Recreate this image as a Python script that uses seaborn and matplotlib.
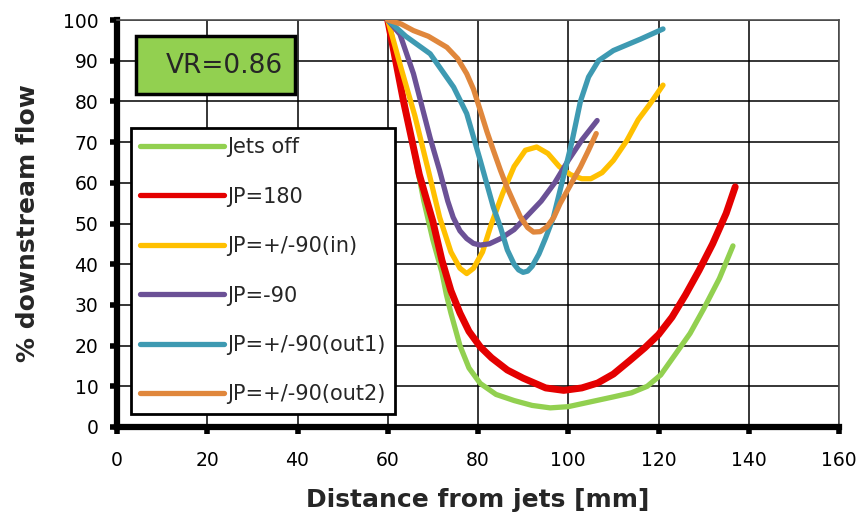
import matplotlib
matplotlib.use("Agg")
import matplotlib.pyplot as plt
import pandas as pd
import seaborn as sns
from matplotlib.patches import Rectangle

# ---- data -------------------------------------------------------------
series_names = ["Jets off", "JP=180", "JP=+/-90(in)", "JP=-90",
                "JP=+/-90(out1)", "JP=+/-90(out2)"]
series_colors = ["#92D050", "#E40000", "#FFC000", "#6B5196", "#3E9AB2", "#E0873C"]
series_widths = [3.8, 5.0, 3.8, 3.8, 3.8, 3.8]

jets_off_x = [60, 64, 68, 70, 72, 73, 74, 76, 78, 80.5, 84, 88, 92, 96, 100,
              105, 110, 114, 117.5, 120.5, 123.5, 127, 130, 133.5, 136.5]
jets_off_y = [100, 78, 55.5, 46, 38, 32.5, 28, 20, 14.5, 10.7, 8, 6.5, 5.3, 4.7, 5,
              6.2, 7.4, 8.4, 10, 12.8, 17.5, 23, 29, 36.5, 44.5]

jp180_x = [60, 63.5, 67, 70, 72, 74, 76, 78, 80.5, 83, 86.5, 90, 95, 99, 103,
           106.5, 110, 113.5, 117, 120, 123, 126, 129, 132, 135, 137]
jp180_y = [100, 80, 62, 50.5, 41, 33.5, 28, 23.5, 19.7, 17, 14, 12, 9.6, 9, 9.6,
           10.8, 13, 16.2, 19.5, 22.7, 27, 32.5, 38.5, 45, 52.5, 59]

jp90_in_x = [60, 63, 66, 69, 71.5, 74, 76, 77.5, 79, 81, 83, 85.5, 88, 90.5, 93,
             95.5, 98, 100.5, 103, 105, 107.5, 110, 113, 115.5, 118, 121]
jp90_in_y = [100, 88, 76.5, 63, 51.5, 43, 39, 37.7, 39, 43, 50, 57.5, 64, 68, 68.8,
             67.2, 64, 62, 61, 61, 62.5, 65.5, 70.4, 75.5, 79.2, 84]

jp_m90_x = [60, 62.7, 65.7, 69.4, 71.5, 73.3, 74.5, 76, 77.5, 79, 80.5, 82.5, 85,
            88, 91, 94, 97, 100, 103, 106.4]
jp_m90_y = [100, 96.5, 86.8, 71, 63, 55.5, 51.5, 48.2, 46.3, 45.1, 44.7, 45, 46.3,
            48.5, 52, 55.5, 60, 65.5, 70.5, 75.3]

jp90_out1_x = [60, 64, 69.4, 74.6, 77.5, 80.5, 83.4, 85, 86.5, 88, 89, 90, 91,
               92, 93.5, 95, 96.7, 98.6, 100.8, 102.7, 104.5, 106.7, 110, 116, 121]
jp90_out1_y = [100, 96, 91.7, 83.5, 77, 65.5, 54, 49, 43.5, 40, 38.6, 38, 38.3,
               39.5, 42.5, 46.5, 51.5, 60, 70, 80, 86, 90, 92.5, 95.3, 97.8]

jp90_out2_x = [60, 63, 65.7, 69, 73.1, 75.5, 77.5, 79, 80.5, 82, 83.4, 85, 86.4, 88,
               89.4, 91, 92.3, 93.8, 95.3, 96.8, 98.2, 100.5, 102.7, 104.5, 106.2]
jp90_out2_y = [100, 99, 97.4, 96, 93.3, 90.5, 86.8, 83, 77.8, 72.5, 68, 63, 59, 55,
               51.6, 49, 47.9, 48, 49.2, 51.5, 54.9, 59.5, 63.9, 68, 72.1]

x_ticks = [0, 20, 40, 60, 80, 100, 120, 140, 160]
y_ticks = [0, 10, 20, 30, 40, 50, 60, 70, 80, 90, 100]

series_x = [jets_off_x, jp180_x, jp90_in_x, jp_m90_x, jp90_out1_x, jp90_out2_x]
series_y = [jets_off_y, jp180_y, jp90_in_y, jp_m90_y, jp90_out1_y, jp90_out2_y]

frames = []
for name, xs, ys in zip(series_names, series_x, series_y):
    frames.append(pd.DataFrame({"distance": xs, "flow": ys, "series": name}))
df = pd.concat(frames, ignore_index=True)

# ---- figure -----------------------------------------------------------
sns.set_theme(style="white")
plt.rcParams["font.family"] = ["DejaVu Sans"]

fig = plt.figure(figsize=(8.6, 5.25), dpi=100)
ax = fig.add_axes([117 / 860, 1 - 427 / 525, 722 / 860, 407 / 525])

for name, color, lw in zip(series_names, series_colors, series_widths):
    sub = df[df["series"] == name]
    sns.lineplot(data=sub, x="distance", y="flow", ax=ax, color=color,
                 linewidth=lw, sort=False, estimator=None, label=name,
                 solid_capstyle="round", solid_joinstyle="round", zorder=3)

ax.set_xlim(0, 160)
ax.set_ylim(0, 100)
ax.set_xticks(x_ticks)
ax.set_yticks(y_ticks)
ax.grid(True, color="black", linewidth=1.1)
ax.set_axisbelow(True)

for side in ("left", "bottom"):
    ax.spines[side].set_linewidth(4.5)
    ax.spines[side].set_color("black")
for side in ("top", "right"):
    ax.spines[side].set_linewidth(1.2)
    ax.spines[side].set_color("#505050")

ax.tick_params(axis="both", direction="out", length=5, width=4, color="black",
               labelsize=13.5, labelcolor="black", left=True, bottom=True)
ax.tick_params(axis="y", pad=8.5)
ax.tick_params(axis="x", pad=12)

ax.set_xlabel("Distance from jets [mm]", fontsize=18, fontweight="bold")
ax.xaxis.set_label_coords(0.5, -(500 - 427) / 407)
ax.xaxis.label.set_va("center")
ax.set_ylabel("% downstream flow", fontsize=18, fontweight="bold")
ax.yaxis.set_label_coords(-(117 - 28) / 722, 0.5)
ax.yaxis.label.set_va("center")

# velocity-ratio tag
ax.add_patch(Rectangle((4.2, 81.8), 35.3, 14.2, facecolor="#92D050",
                       edgecolor="black", linewidth=2.5, zorder=5))
ax.text(23.8, 88.8, "VR=0.86", fontsize=19, ha="center", va="center", zorder=6)

leg = ax.legend(loc="upper left", bbox_to_anchor=(0.0194, 0.7346),
                borderaxespad=0, frameon=True, fancybox=False,
                edgecolor="black", framealpha=1, fontsize=15,
                handlelength=4.0, handletextpad=0.15, labelspacing=1.41,
                borderpad=0.45)
leg.get_frame().set_linewidth(2)
for line in leg.get_lines():
    line.set_linewidth(3.8)
leg.set_zorder(7)

fig.savefig("out.png", dpi=100)
